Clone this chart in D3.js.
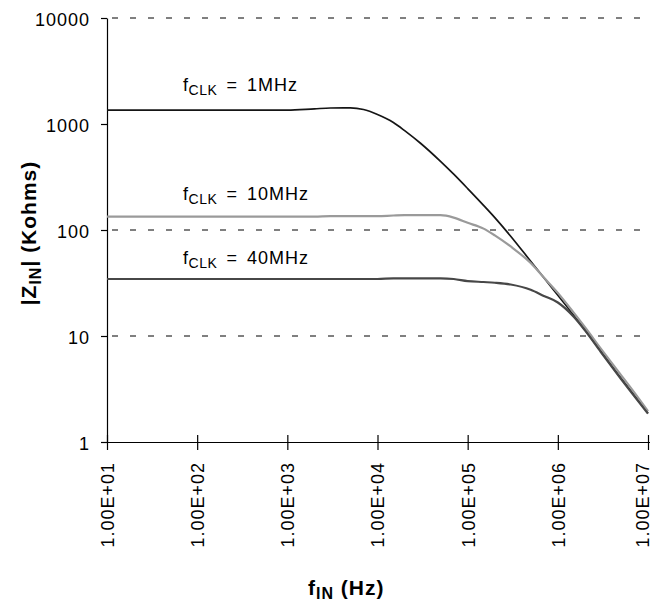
<!DOCTYPE html>
<html>
<head>
<meta charset="utf-8">
<script src="https://cdn.jsdelivr.net/npm/d3@7"></script>
<style>
  body { margin: 0; background: #fff; }
  text { font-family: "Liberation Sans", Arial, Helvetica, sans-serif; fill: #000; }
</style>
</head>
<body>
<svg id="chart" width="657" height="604"></svg>
<script>
// Input frequency (Hz) at which the input impedance was evaluated
const freqHz = [10, 100, 1000, 2000, 3000, 5000, 7000, 1e4, 1.5e4, 2e4, 3e4, 5e4, 7e4,
  1e5, 1.5e5, 2e5, 3e5, 5e5, 7e5, 1e6, 1.5e6, 2e6, 3e6, 5e6, 7e6, 1e7];

// |Z_IN| in kOhms for each clock frequency
const zin1MHz = [1350, 1350, 1350, 1390, 1415, 1420, 1370, 1229, 1033, 866, 658, 444, 336,
  246, 171, 131, 87.4, 50.7, 35.4, 24.2, 15.7, 11.4, 7.2, 4.01, 2.78, 1.88];
const zin10MHz = [134, 134, 134, 134, 135, 135, 135, 135, 137, 138, 138, 138, 131,
  117, 103, 89, 69.9, 48.8, 35.6, 25.5, 16.6, 12.1, 7.6, 4.3, 2.95, 1.95];
const zin40MHz = [34.5, 34.5, 34.5, 34.5, 34.5, 34.5, 34.5, 34.5, 35, 35, 35, 35, 34.5,
  33, 32.3, 31.8, 30.6, 27.3, 23.9, 20.7, 15.2, 11.3, 7.05, 3.95, 2.72, 1.85];

const clockLabels = ["1MHz", "10MHz", "40MHz"];

// Axis ticks
const xTickValues = [1e1, 1e2, 1e3, 1e4, 1e5, 1e6, 1e7];
const xTickLabels = ["1.00E+01", "1.00E+02", "1.00E+03", "1.00E+04", "1.00E+05", "1.00E+06", "1.00E+07"];
const yTickValues = [1, 10, 100, 1000, 10000];
const yTickLabels = ["1", "10", "100", "1000", "10000"];
const yGridValues = [10, 100, 10000];

const W = 657, H = 604;
const margin = { top: 18, right: 9, bottom: 162, left: 107 };

const svg = d3.select("#chart");

const x = d3.scaleLog().domain([10, 1e7]).range([margin.left, W - margin.right]);
const y = d3.scaleLog().domain([1, 10000]).range([H - margin.bottom, margin.top]);

// Dashed horizontal gridlines
svg.append("g")
  .selectAll("line")
  .data(yGridValues)
  .join("line")
  .attr("x1", margin.left + 5)
  .attr("x2", W - 7)
  .attr("y1", d => y(d))
  .attr("y2", d => y(d))
  .attr("stroke", "#000")
  .attr("stroke-width", 1)
  .attr("stroke-dasharray", "6,12");

// Y axis
const yAxis = svg.append("g")
  .attr("transform", `translate(${margin.left},0)`)
  .call(d3.axisLeft(y)
    .tickValues(yTickValues)
    .tickFormat((d, i) => yTickLabels[i])
    .tickSizeInner(6)
    .tickSizeOuter(0)
    .tickPadding(11));
yAxis.attr("font-family", null);
yAxis.select(".domain").attr("stroke", "#000").attr("stroke-width", 1.2);
yAxis.selectAll(".tick line").attr("stroke", "#000").attr("stroke-width", 1.2);
yAxis.selectAll(".tick text")
  .attr("font-size", 18)
  .attr("letter-spacing", 1)
  .attr("dy", "0.44em");

// X axis
const xAxis = svg.append("g")
  .attr("transform", `translate(0,${H - margin.bottom})`)
  .call(d3.axisBottom(x)
    .tickValues(xTickValues)
    .tickFormat((d, i) => xTickLabels[i])
    .tickSizeInner(8)
    .tickSizeOuter(0));
xAxis.attr("font-family", null);
xAxis.select(".domain")
  .attr("d", `M${margin.left},0.5H${W - 7}`)
  .attr("stroke", "#000").attr("stroke-width", 1.2);
xAxis.selectAll(".tick line")
  .attr("y1", -7)
  .attr("y2", 8)
  .attr("stroke", "#000").attr("stroke-width", 1.2);
// Rotated labels; the last one is nudged inward so it stays inside the frame
xAxis.selectAll(".tick text")
  .attr("font-size", 18)
  .attr("letter-spacing", 1)
  .attr("text-anchor", "end")
  .attr("x", 0)
  .attr("y", 0)
  .attr("dy", (d, i, n) => i === n.length - 1 ? "0.05em" : "0.36em")
  .attr("transform", "translate(0,20) rotate(-90)");

// Impedance curves
const series = [
  { values: zin1MHz, color: "#151515", width: 1.7 },
  { values: zin10MHz, color: "#9a9a9a", width: 2.2 },
  { values: zin40MHz, color: "#474747", width: 2.2 }
];

const line = d3.line()
  .x(d => x(d[0]))
  .y(d => y(d[1]))
  .curve(d3.curveMonotoneX);

svg.append("g")
  .selectAll("path")
  .data(series)
  .join("path")
  .attr("d", s => line(freqHz.map((f, i) => [f, s.values[i]])))
  .attr("fill", "none")
  .attr("stroke", s => s.color)
  .attr("stroke-width", s => s.width)
  .attr("stroke-linejoin", "round");

// Clock frequency labels above each flat region
const labelX = 183;
const labelBaselines = [91, 200, 264];
clockLabels.forEach((lab, i) => {
  const t = svg.append("text")
    .attr("x", labelX)
    .attr("y", labelBaselines[i])
    .attr("font-size", 18)
    .attr("letter-spacing", 0.6);
  t.append("tspan").text("f");
  t.append("tspan").attr("font-size", 14).attr("dy", 4).attr("x", labelX + 5.5).text("CLK");
  t.append("tspan").attr("dy", -4).attr("x", labelX + 43.5).text("=");
  t.append("tspan").attr("x", labelX + 64).attr("letter-spacing", 1).text(lab);
});

// X axis title
const xt = svg.append("text")
  .attr("x", 308)
  .attr("y", 595)
  .attr("font-size", 21)
  .attr("font-weight", "bold")
  .attr("letter-spacing", 1);
xt.append("tspan").text("f");
xt.append("tspan").attr("font-size", 16).attr("dy", 4).text("IN");
xt.append("tspan").attr("dy", -4).text(" (Hz)");

// Y axis title
const yt = svg.append("text")
  .attr("transform", "translate(36,233) rotate(-90)")
  .attr("text-anchor", "middle")
  .attr("font-size", 21)
  .attr("font-weight", "bold")
  .attr("letter-spacing", 1);
yt.append("tspan").text("|Z");
yt.append("tspan").attr("font-size", 16).attr("dy", 5).text("IN");
yt.append("tspan").attr("dy", -5).text("| (Kohms)");
</script>
</body>
</html>
